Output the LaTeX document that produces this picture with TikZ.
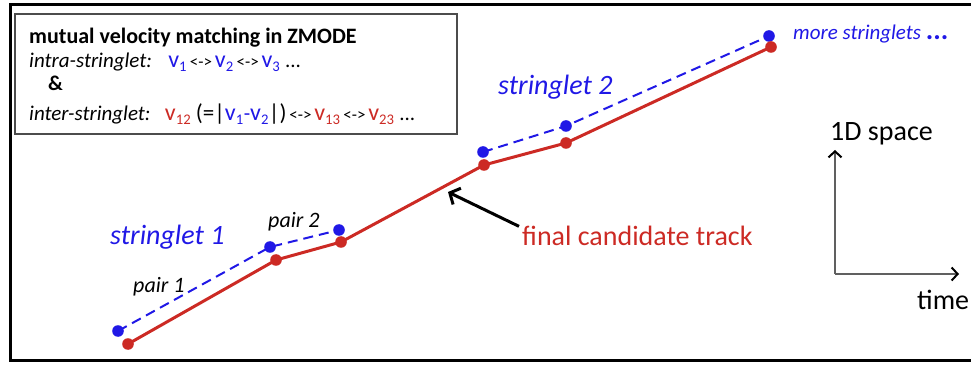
\documentclass[tikz,border=0pt]{standalone}
\usepackage{fontspec}
\setmainfont{Carlito}
\usepackage{tikz}
\usetikzlibrary{arrows.meta}
\usepackage{xcolor}
\definecolor{strblue}{RGB}{32,24,230}
\definecolor{trkred}{RGB}{204,42,36}

\begin{document}
\begin{tikzpicture}[x=1pt,y=1pt]

    % --- Global Settings ---
    \tikzset{
        trackline/.style={line width=3pt, trkred, line join=round},
        pairline/.style={line width=2pt, strblue, dash pattern=on 10pt off 6pt},
        lbl/.style={inner sep=0pt, anchor=base west},
        axisline/.style={line width=1.2pt, gray!75!black,
            -{Straight Barb[color=black, length=6pt, width=13pt, line width=2pt]}},
        pointer/.style={line width=3pt, black,
            -{Straight Barb[length=8pt, width=18pt, line width=3pt]}}
    }
    \newcommand{\sz}[1]{\fontsize{#1}{#1}\selectfont}
    \newcommand{\dbl}{{\sz{17}\,<->\,}}
    \newcommand{\vel}[2]{\textcolor{#1}{{\sz{24}v}\textsubscript{#2}}}

    \useasboundingbox (0,0) rectangle (971,364);

    % --- Frame and legend box ---
    \draw[line width=3pt, black] (971,359) -- (10,359) -- (10,4) -- (971,4);
    \draw[line width=1.3pt, gray!60!black] (15,350) rectangle (457,230);

    \node[lbl] (title) at (29,320) {\sz{22}\bfseries mutual velocity matching in ZMODE};
    \node[lbl] (intra) at (29,296) {\sz{21}\textit{intra-stringlet:}\hspace{10pt}
        \vel{strblue}{1}\dbl\vel{strblue}{2}\dbl\vel{strblue}{3} ...};
    \node[lbl] (amp) at (48,273) {\sz{21}\bfseries \&};
    \node[lbl] (inter) at (29,243) {\sz{21}\textit{inter-stringlet:}\hspace{8pt}
        \vel{trkred}{12} {\sz{23}(=|}\vel{strblue}{1}\textcolor{strblue}{-}\vel{strblue}{2}{\sz{23}|)}\dbl\vel{trkred}{13}\dbl\vel{trkred}{23} ...};

    % --- Hits: blue = stringlet, red = track ---
    \coordinate (B1) at (118,33);  \coordinate (R1) at (128,20);
    \coordinate (B2) at (270,117); \coordinate (R2) at (276,104);
    \coordinate (B3) at (339,134); \coordinate (R3) at (341,122);
    \coordinate (B4) at (483,212); \coordinate (R4) at (484,199);
    \coordinate (B5) at (566,238); \coordinate (R5) at (566,221);
    \coordinate (B6) at (769,328); \coordinate (R6) at (771,317);

    \draw[pairline] (B1) -- (B2) -- (B3);
    \draw[pairline] (B4) -- (B5) -- (B6);
    \draw[trackline] (R1) -- (R2) -- (R3) -- (R4) -- (R5) -- (R6);

    \foreach \i in {1,...,6} {
        \fill[strblue] (B\i) circle (5.8pt);
        \fill[trkred] (R\i) circle (5.8pt);
    }

    % --- Labels ---
    \node[lbl, strblue] (str1) at (110,119) {\sz{28}\itshape stringlet 1};
    \node[lbl, strblue] (str2) at (498,269) {\sz{28}\itshape stringlet 2};
    \node[lbl] (pair1) at (133,71) {\sz{22}\itshape pair 1};
    \node[lbl] (pair2) at (268,136) {\sz{22}\itshape pair 2};
    \node[lbl, strblue] (more) at (793,324) {\sz{21}\itshape more stringlets {\upshape\bfseries\sz{28}...}};

    \node[lbl, trkred] (trk) at (522,118) {\sz{28}final candidate track};
    \coordinate (hit) at (448,172);
    \draw[pointer] ([xshift=-3pt]trk.north west) -- (hit);

    % --- Axes ---
    \coordinate (orig) at (835,90);
    \coordinate (up) at (835,214);
    \coordinate (right) at (959,90);
    \draw[axisline] (orig) -- (up);
    \draw[axisline] (orig) -- (right);
    \node[lbl] (space) at (830,223) {\sz{28}1D space};
    \node[lbl] (time) at (917,54) {\sz{28}time};

\end{tikzpicture}
\end{document}
